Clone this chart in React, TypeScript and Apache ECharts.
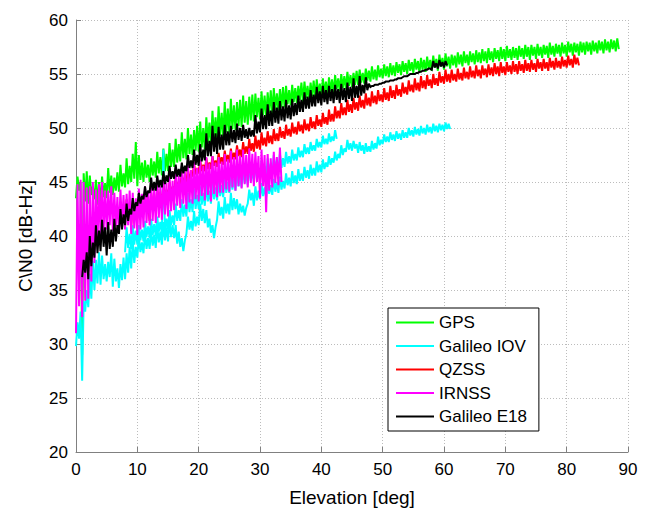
import React, { useEffect, useRef } from "react";
import * as echarts from "echarts";

// Elevation sampling: each trace is sampled every STEP degrees starting at its first elevation.
const STEP = 0.25;

const xTicks = [0, 10, 20, 30, 40, 50, 60, 70, 80, 90];
const yTicks = [20, 25, 30, 35, 40, 45, 50, 55, 60];

const legendNames = ["GPS", "Galileo IOV", "QZSS", "IRNSS", "Galileo E18"];
const colors = ["#00ff00", "#00ffff", "#ff0000", "#ff00ff", "#000000"];

// GPS: 0.0 .. 88.5 deg (one row = one degree)
const gpsStart = 0.0;
const gpsCn0 = [
  43.5, 45.5, 44.2, 45.0, 29.0, 45.8, 43.2, 46.0, 43.0, 45.6, 43.8, 44.6,
  43.4, 45.2, 42.9, 45.0, 42.8, 45.5, 43.6, 44.9, 43.5, 46.3, 44.0, 45.6,
  43.8, 45.4, 44.2, 45.9, 44.1, 46.6, 44.6, 45.8, 44.5, 47.2, 44.8, 46.5,
  45.0, 47.6, 45.3, 48.7, 44.6, 47.5, 45.2, 46.8, 45.0, 47.0, 45.4, 46.6,
  45.0, 47.2, 45.6, 46.9, 45.4, 47.8, 45.8, 47.3, 45.6, 48.1, 46.0, 47.6,
  46.0, 48.6, 46.4, 48.0, 46.4, 49.0, 46.8, 48.5, 46.9, 49.6, 47.2, 49.0,
  47.1, 50.0, 47.6, 49.4, 47.5, 49.8, 47.9, 50.2, 47.8, 50.6, 48.2, 50.0,
  48.0, 51.0, 48.6, 50.5, 48.5, 51.6, 49.0, 51.0, 48.9, 52.0, 49.3, 51.4,
  49.1, 52.4, 49.6, 51.8, 49.4, 52.7, 49.9, 52.1, 49.8, 52.4, 50.2, 52.6,
  50.1, 53.0, 50.5, 52.5, 50.3, 52.9, 50.7, 53.1, 50.6, 53.2, 51.0, 52.8,
  50.8, 53.4, 51.2, 53.0, 51.0, 53.3, 51.4, 53.5, 51.3, 53.7, 51.7, 53.2,
  51.6, 53.6, 51.9, 53.8, 51.9, 53.9, 52.2, 53.5, 52.1, 54.0, 52.4, 53.7,
  52.3, 53.9, 52.6, 54.2, 52.4, 54.3, 52.8, 53.9, 52.6, 54.2, 52.9, 54.4,
  52.7, 54.5, 53.1, 54.1, 52.8, 54.6, 53.2, 54.3, 53.0, 54.7, 53.4, 54.5,
  53.2, 54.9, 53.6, 54.6, 53.4, 55.0, 53.7, 54.8, 53.6, 55.2, 53.9, 54.9,
  53.8, 55.1, 54.0, 55.3, 54.0, 55.4, 54.2, 55.1, 54.1, 55.5, 54.4, 55.3,
  54.3, 55.7, 54.5, 55.4, 54.4, 55.8, 54.7, 55.5, 54.6, 55.9, 54.8, 55.7,
  54.7, 56.0, 54.9, 55.8, 54.8, 56.1, 55.1, 55.9, 54.9, 56.2, 55.2, 56.0,
  55.0, 56.3, 55.3, 56.1, 55.1, 56.4, 55.4, 56.2, 55.1, 56.5, 55.4, 56.3,
  55.2, 56.6, 55.5, 56.3, 55.3, 56.7, 55.6, 56.4, 55.3, 56.8, 55.7, 56.5,
  55.4, 56.9, 55.7, 56.6, 55.5, 56.8, 55.8, 56.7, 55.6, 57.0, 55.9, 56.8,
  55.7, 57.1, 56.0, 56.8, 55.8, 57.1, 56.1, 56.9, 55.9, 57.2, 56.1, 57.0,
  56.0, 57.3, 56.2, 57.1, 56.0, 57.4, 56.3, 57.1, 56.1, 57.4, 56.4, 57.2,
  56.2, 57.5, 56.4, 57.3, 56.2, 57.6, 56.5, 57.3, 56.3, 57.5, 56.5, 57.4,
  56.3, 57.6, 56.6, 57.4, 56.4, 57.7, 56.6, 57.5, 56.3, 57.7, 56.7, 57.5,
  56.4, 57.8, 56.7, 57.5, 56.5, 57.7, 56.8, 57.6, 56.5, 57.9, 56.8, 57.6,
  56.6, 57.8, 56.9, 57.7, 56.6, 57.9, 56.9, 57.7, 56.6, 58.0, 57.0, 57.8,
  56.7, 57.9, 57.0, 57.8, 56.7, 58.0, 57.0, 57.9, 56.8, 58.0, 57.1, 57.9,
  56.8, 58.1, 57.1, 57.9, 56.9, 58.1, 57.2, 58.0, 56.9, 58.2, 57.2, 58.0,
  57.0, 58.2, 57.3, 58.1, 57.1, 58.3, 57.3,
];

// Galileo IOV, lower / longer pass: 0.0 .. 61.0 deg
const iovAStart = 0.0;
const iovACn0 = [
  29.8, 32.0, 30.5, 33.0, 26.6, 34.0, 33.0, 35.0, 33.4, 36.5, 34.2, 37.7,
  35.0, 37.8, 35.6, 38.5, 35.5, 38.2, 36.0, 37.4, 35.8, 37.6, 36.2, 38.4,
  35.3, 37.9, 35.8, 37.0, 35.2, 37.4, 35.9, 38.0, 36.0, 38.4, 36.6, 39.0,
  37.0, 39.6, 37.5, 39.0, 38.0, 40.0, 38.5, 39.4, 38.4, 40.3, 38.8, 39.8,
  38.8, 40.5, 39.1, 40.1, 38.9, 41.0, 39.4, 40.4, 39.2, 41.3, 39.6, 40.8,
  39.5, 41.5, 39.9, 41.0, 39.8, 41.0, 39.3, 40.4, 39.0, 39.8, 38.6, 39.6,
  40.2, 41.8, 40.6, 41.4, 40.5, 42.3, 40.9, 41.8, 41.0, 43.0, 41.4, 42.5,
  41.2, 42.4, 40.8, 41.6, 40.3, 41.0, 39.8, 40.8, 41.5, 43.2, 41.9, 42.7,
  41.6, 43.6, 42.1, 43.0, 42.0, 44.0, 42.4, 43.5, 42.5, 43.4, 42.0, 43.0,
  42.2, 42.8, 41.9, 42.6, 43.0, 44.3, 43.3, 44.0, 42.8, 44.6, 43.3, 44.2,
  43.4, 44.9, 43.7, 44.5, 43.6, 45.1, 43.9, 44.7, 43.8, 45.3, 44.1, 45.0,
  44.0, 45.5, 44.3, 45.1, 44.4, 45.8, 44.7, 45.4, 44.6, 46.0, 44.9, 45.6,
  44.8, 46.2, 45.1, 45.8, 45.1, 46.4, 45.4, 46.1, 45.3, 46.6, 45.6, 46.3,
  45.6, 46.9, 45.9, 46.6, 45.9, 47.1, 46.2, 46.8, 46.4, 47.4, 46.6, 47.2,
  46.8, 47.8, 47.0, 47.6, 47.2, 48.4, 47.5, 48.1, 47.8, 48.9, 48.0, 48.6,
  47.9, 48.8, 48.1, 48.5, 47.7, 48.7, 47.9, 48.4, 47.6, 48.6, 47.8, 48.3,
  47.8, 48.8, 48.0, 48.6, 48.1, 49.2, 48.4, 48.9, 48.5, 49.4, 48.7, 49.2,
  48.7, 49.6, 48.9, 49.4, 48.8, 49.7, 49.0, 49.5, 48.9, 49.8, 49.1, 49.6,
  49.1, 50.0, 49.3, 49.8, 49.2, 50.1, 49.4, 49.9, 49.3, 50.2, 49.5, 50.0,
  49.4, 50.3, 49.6, 50.1, 49.5, 50.4, 49.7, 50.2, 49.6, 50.4, 49.8, 50.3,
  49.7, 50.5, 49.9, 50.4, 49.9,
];

// Galileo IOV, upper pass: 8.0 .. 42.5 deg
const iovBStart = 8.0;
const iovBCn0 = [
  38.5, 40.8, 38.9, 40.2, 38.8, 41.0, 39.2, 40.5, 39.2, 41.0, 39.6, 40.6,
  39.5, 41.4, 39.9, 40.9, 39.8, 41.6, 40.1, 41.1, 40.0, 41.8, 40.4, 41.3,
  40.2, 48.0, 40.4, 41.6, 40.6, 42.4, 41.0, 41.9, 41.0, 43.0, 41.4, 42.4,
  41.4, 43.4, 41.8, 42.9, 41.8, 44.0, 42.2, 43.4, 42.2, 44.4, 42.5, 43.8,
  42.5, 44.6, 42.9, 44.0, 42.8, 44.8, 43.2, 44.2, 43.0, 45.0, 43.4, 44.5,
  43.3, 45.2, 43.7, 44.7, 43.6, 45.5, 44.0, 45.0, 44.0, 45.8, 44.3, 45.3,
  44.2, 46.0, 44.6, 45.5, 44.5, 46.3, 44.9, 45.8, 44.7, 46.6, 45.1, 46.1,
  45.0, 46.8, 45.4, 46.3, 45.2, 47.0, 45.6, 46.5, 45.4, 47.2, 45.8, 46.7,
  45.7, 47.5, 46.0, 47.0, 46.0, 47.6, 46.3, 47.2, 46.4, 47.8, 46.7, 47.4,
  46.7, 48.0, 47.0, 47.6, 47.0, 48.2, 47.3, 47.9, 47.3, 48.5, 47.6, 48.2,
  47.6, 48.7, 47.9, 48.4, 47.9, 49.0, 48.2, 48.7, 48.2, 49.3, 48.5, 49.0,
  48.5, 49.5, 48.7, 49.2, 48.8, 49.8, 49.0,
];

// QZSS: 7.0 .. 82.0 deg
const qzssStart = 7.0;
const qzssCn0 = [
  41.2, 42.8, 41.6, 42.3, 41.5, 43.4, 41.8, 42.7, 41.0, 42.9, 41.5, 42.4,
  41.6, 43.4, 42.0, 42.9, 42.0, 43.8, 42.3, 43.2, 41.4, 44.0, 42.6, 43.5,
  42.6, 44.4, 43.0, 43.9, 43.0, 44.8, 43.4, 44.3, 43.5, 45.0, 43.8, 44.6,
  44.0, 45.5, 44.3, 45.0, 44.5, 45.9, 44.8, 45.4, 45.0, 46.2, 45.2, 45.8,
  45.5, 46.7, 45.7, 46.3, 45.8, 47.0, 46.0, 46.6, 46.0, 47.2, 46.2, 46.8,
  46.2, 47.4, 46.5, 47.0, 46.4, 47.7, 46.7, 47.3, 46.6, 47.9, 46.9, 47.5,
  46.8, 48.1, 47.1, 47.7, 47.1, 48.4, 47.4, 48.0, 47.3, 48.7, 47.6, 48.3,
  47.6, 49.0, 47.9, 48.6, 47.8, 49.3, 48.1, 48.9, 48.0, 49.6, 48.4, 49.1,
  48.3, 49.7, 48.6, 49.3, 48.5, 49.9, 48.8, 49.5, 48.8, 50.1, 49.1, 49.7,
  49.0, 50.3, 49.3, 49.9, 49.2, 50.5, 49.5, 50.1, 49.4, 50.6, 49.7, 50.3,
  49.5, 50.8, 49.8, 50.4, 49.7, 51.0, 50.0, 50.6, 49.9, 51.2, 50.2, 50.8,
  50.1, 51.4, 50.4, 51.0, 50.3, 51.7, 50.6, 51.3, 50.6, 52.0, 50.9, 51.6,
  50.9, 52.3, 51.2, 51.9, 51.2, 52.6, 51.5, 52.2, 51.4, 52.8, 51.7, 52.4,
  51.6, 53.0, 51.9, 52.6, 51.8, 53.2, 52.1, 52.8, 52.0, 53.4, 52.3, 53.0,
  52.2, 53.5, 52.5, 53.1, 52.4, 53.7, 52.6, 53.3, 52.5, 53.9, 52.8, 53.5,
  52.7, 54.0, 53.0, 53.6, 52.9, 54.2, 53.2, 53.8, 53.1, 54.4, 53.4, 54.0,
  53.3, 54.6, 53.5, 54.2, 53.4, 54.8, 53.7, 54.4, 53.6, 54.9, 53.9, 54.5,
  53.7, 55.0, 54.0, 54.6, 53.9, 55.2, 54.2, 54.8, 54.1, 55.4, 54.3, 55.0,
  54.2, 55.4, 54.4, 55.0, 54.3, 55.5, 54.5, 55.1, 54.4, 55.6, 54.6, 55.2,
  54.5, 55.7, 54.7, 55.3, 54.6, 55.8, 54.8, 55.4, 54.6, 55.8, 54.9, 55.5,
  54.7, 55.9, 54.9, 55.6, 54.8, 56.0, 55.0, 55.7, 54.8, 56.1, 55.1, 55.7,
  54.9, 56.1, 55.2, 55.8, 55.0, 56.2, 55.2, 55.9, 55.0, 56.2, 55.3, 55.9,
  55.1, 56.3, 55.3, 56.0, 55.2, 56.3, 55.4, 56.0, 55.2, 56.4, 55.5, 56.1,
  55.3, 56.4, 55.5, 56.1, 55.3, 56.5, 55.6, 56.2, 55.4, 56.5, 55.6, 56.2,
  55.5, 56.6, 55.7, 56.3, 55.6, 56.7, 55.8, 56.4, 55.6, 56.8, 55.9, 56.5,
  55.8,
];

// IRNSS: 0.0 .. 33.5 deg
const irnssStart = 0.0;
const irnssCn0 = [
  31.0, 44.8, 33.5, 45.2, 32.5, 45.0, 34.0, 44.5, 34.2, 44.6, 35.8, 45.0,
  37.5, 44.3, 39.0, 44.8, 40.0, 45.0, 40.4, 44.2, 40.6, 44.2, 41.0, 44.6,
  40.5, 44.0, 40.9, 43.6, 40.2, 44.3, 40.8, 43.8, 40.6, 43.9, 41.0, 44.2,
  40.2, 44.0, 40.7, 43.5, 40.1, 44.4, 40.6, 43.9, 40.8, 44.6, 41.2, 44.1,
  41.0, 44.9, 41.4, 44.4, 41.2, 45.2, 41.7, 44.6, 41.5, 45.4, 42.0, 44.9,
  41.8, 45.6, 42.3, 45.1, 42.4, 46.1, 42.8, 45.6, 42.6, 46.5, 43.0, 46.0,
  42.5, 46.6, 43.1, 46.1, 43.0, 46.9, 43.4, 46.3, 43.2, 47.1, 43.7, 46.5,
  43.3, 47.3, 43.8, 46.7, 43.2, 47.4, 43.9, 46.8, 43.6, 47.3, 44.0, 46.9,
  44.0, 47.6, 44.3, 47.1, 44.1, 47.9, 44.5, 47.3, 44.2, 48.0, 44.6, 47.4,
  44.4, 48.0, 44.8, 47.5, 44.5, 48.1, 44.9, 47.6, 44.6, 47.8, 45.0, 47.4,
  43.5, 48.0, 44.6, 47.5, 42.2, 47.6, 44.2, 47.2, 44.5, 47.8, 44.9, 47.3,
  44.7, 48.2, 45.0,
];

// Galileo E18: 1.0 .. 60.5 deg
const e18Start = 1.0;
const e18Cn0 = [
  36.2, 37.8, 36.6, 38.5, 36.0, 40.0, 37.2, 39.4, 38.0, 41.0, 38.4, 40.5,
  38.6, 41.5, 39.0, 40.8, 38.2, 41.3, 38.8, 40.6, 39.0, 41.6, 39.5, 41.0,
  40.2, 42.5, 40.6, 42.0, 41.0, 43.0, 41.4, 42.5, 42.0, 43.5, 42.3, 43.1,
  42.8, 44.0, 43.0, 43.7, 43.4, 44.6, 43.6, 44.2, 44.0, 45.4, 44.2, 45.0,
  44.2, 45.6, 44.5, 45.2, 44.5, 46.0, 44.8, 45.6, 45.0, 46.5, 45.3, 46.0,
  45.3, 46.6, 45.5, 46.2, 45.5, 46.8, 45.8, 46.5, 46.0, 47.5, 46.3, 47.0,
  46.3, 48.0, 46.6, 47.5, 46.5, 48.5, 46.9, 48.0, 47.0, 49.5, 47.4, 48.8,
  47.4, 50.2, 47.8, 49.5, 47.6, 50.1, 48.0, 49.4, 48.0, 50.3, 48.4, 49.7,
  48.4, 50.2, 48.7, 49.8, 48.6, 50.4, 48.9, 50.0, 48.8, 50.3, 49.1, 49.9,
  49.0, 50.0, 49.2, 49.8, 49.2, 51.2, 49.5, 50.6, 49.6, 51.8, 49.9, 51.2,
  49.9, 52.2, 50.2, 51.6, 50.2, 52.4, 50.5, 51.9, 50.4, 52.5, 50.7, 52.0,
  50.6, 52.6, 50.9, 52.1, 50.8, 52.7, 51.1, 52.3, 51.2, 53.0, 51.5, 52.6,
  51.5, 53.3, 51.8, 52.9, 51.8, 53.5, 52.0, 53.1, 52.0, 53.8, 52.3, 53.4,
  52.1, 53.9, 52.4, 53.5, 52.2, 53.9, 52.5, 53.6, 52.3, 54.0, 52.6, 53.6,
  52.3, 54.1, 52.6, 53.7, 52.4, 54.2, 52.7, 53.8, 52.5, 54.6, 52.8, 53.9,
  52.8, 54.8, 53.0, 54.0, 53.2, 54.7, 53.5, 54.1, 53.8, 53.9, 53.9, 54.0,
  54.0, 54.0, 54.1, 54.1, 54.2, 54.2, 54.3, 54.3, 54.3, 54.4, 54.4, 54.4,
  54.5, 54.5, 54.6, 54.6, 54.6, 54.7, 54.8, 54.8, 54.8, 54.9, 55.0, 55.0,
  55.0, 55.0, 55.1, 55.1, 55.2, 55.2, 55.3, 55.3, 55.4, 55.4, 55.5, 55.5,
  55.4, 56.2, 55.6, 56.0, 55.5, 56.3, 55.7, 56.1, 55.6, 56.2, 55.8,
];

const toPairs = (start: number, values: number[]) =>
  values.map((v, i) => [Math.round((start + i * STEP) * 100) / 100, v]);

const FONT = "'Liberation Sans', Arial, sans-serif";

export default function App() {
  const ref = useRef<HTMLDivElement>(null);

  useEffect(() => {
    if (!ref.current) return;
    const chart = echarts.init(ref.current, undefined, { renderer: "svg" });

    const mk = (name: string, color: string, data: number[][]) => ({
      name,
      type: "line",
      data,
      symbol: "none",
      showSymbol: false,
      lineStyle: { color, width: 2, join: "miter", miterLimit: 2 },
      itemStyle: { color },
      emphasis: { disabled: true },
      silent: true,
    });

    chart.setOption({
      animation: false,
      backgroundColor: "#ffffff",
      grid: { left: 76, top: 20, width: 552, height: 435, containLabel: false },
      legend: {
        data: legendNames,
        orient: "vertical",
        left: 388,
        top: 308,
        padding: [6, 12, 6, 7],
        itemGap: 6.5,
        itemWidth: 38,
        itemHeight: 14,
        backgroundColor: "#ffffff",
        borderColor: "#000000",
        borderWidth: 1,
        borderRadius: 0,
        selectedMode: false,
        itemStyle: { opacity: 0, borderWidth: 0 },
        lineStyle: { width: 2 },
        textStyle: { fontFamily: FONT, fontSize: 17, color: "#000", lineHeight: 17 },
      },
      xAxis: {
        type: "value",
        min: xTicks[0],
        max: xTicks[xTicks.length - 1],
        interval: xTicks[1] - xTicks[0],
        name: "Elevation [deg]",
        nameLocation: "middle",
        nameGap: 36,
        nameTextStyle: { fontFamily: FONT, fontSize: 19, color: "#000" },
        axisLine: { show: true, onZero: false, lineStyle: { color: "#808080", width: 1 } },
        axisTick: { show: true, inside: true, length: 5, lineStyle: { color: "#808080" } },
        axisLabel: { fontFamily: FONT, fontSize: 17, color: "#000", margin: 9 },
        splitLine: { show: true, lineStyle: { color: "#bcbcbc", type: [1, 2], width: 1 } },
      },
      yAxis: {
        type: "value",
        min: yTicks[0],
        max: yTicks[yTicks.length - 1],
        interval: yTicks[1] - yTicks[0],
        name: "C\\N0 [dB-Hz]",
        nameLocation: "middle",
        nameGap: 41,
        nameTextStyle: { fontFamily: FONT, fontSize: 19, color: "#000" },
        axisLine: { show: true, lineStyle: { color: "#808080", width: 1 } },
        axisTick: { show: true, inside: true, length: 5, lineStyle: { color: "#808080" } },
        axisLabel: { fontFamily: FONT, fontSize: 17, color: "#000", margin: 8 },
        splitLine: { show: true, lineStyle: { color: "#bcbcbc", type: [1, 2], width: 1 } },
      },
      series: [
        mk("GPS", colors[0], toPairs(gpsStart, gpsCn0)),
        mk("Galileo IOV", colors[1], toPairs(iovAStart, iovACn0)),
        mk("Galileo IOV", colors[1], toPairs(iovBStart, iovBCn0)),
        mk("QZSS", colors[2], toPairs(qzssStart, qzssCn0)),
        mk("IRNSS", colors[3], toPairs(irnssStart, irnssCn0)),
        mk("Galileo E18", colors[4], toPairs(e18Start, e18Cn0)),
      ],
    });

    return () => chart.dispose();
  }, []);

  return <div ref={ref} style={{ width: 646, height: 512, position: "absolute", left: 0, top: 0 }} />;
}
